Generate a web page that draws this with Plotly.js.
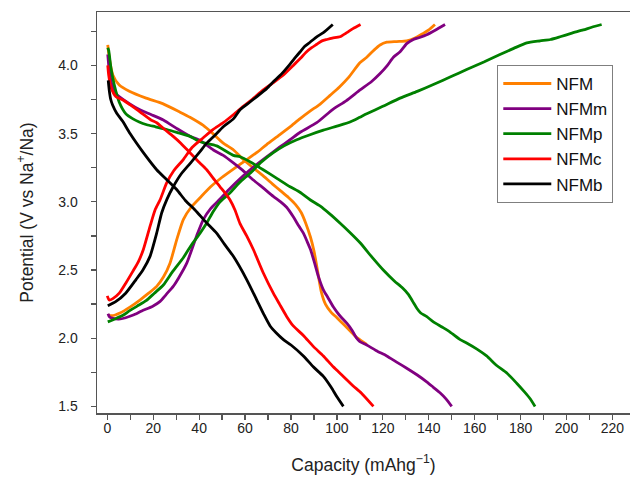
<!DOCTYPE html>
<html>
<head>
<meta charset="utf-8">
<script src="https://cdn.plot.ly/plotly-3.0.1.min.js"></script>
<style>
  html, body { margin: 0; padding: 0; background: #ffffff; overflow: hidden; }
  #chart { width: 630px; height: 483px; }
</style>
</head>
<body>
<div id="chart"></div>
<script>
// ---- Series names and colours ----
const seriesNames = ["NFM", "NFMm", "NFMp", "NFMc", "NFMb"];
const seriesColors = ["#FF8000", "#800080", "#008000", "#FF0000", "#000000"];

// ---- NFM (orange) ----
const nfmChargeCap = [0.4, 2, 5.5, 10, 14.2, 18, 21.5, 24.5, 27.3, 30.2, 33.1, 36.5, 40.4, 45, 50, 54.9, 60, 65, 69.4, 75, 79.6, 84, 88.3, 92.6, 97, 101, 105, 110, 113, 116, 118.8, 121.7, 126, 130.4, 134, 137.6, 140, 142.7];
const nfmChargeV   = [2.17, 2.165, 2.185, 2.23, 2.28, 2.33, 2.38, 2.45, 2.55, 2.72, 2.87, 2.96, 3.03, 3.11, 3.18, 3.24, 3.30, 3.36, 3.42, 3.49, 3.55, 3.61, 3.665, 3.715, 3.78, 3.84, 3.91, 4.02, 4.06, 4.11, 4.15, 4.17, 4.175, 4.18, 4.20, 4.235, 4.26, 4.30];
const nfmDisCap = [0.2, 0.9, 2.4, 5.2, 9.6, 16.9, 24.1, 31.4, 36, 41.8, 46, 50.5, 55, 59.2, 63.5, 67.9, 72, 75.5, 79, 82, 84.5, 86.5, 88.5, 90, 91, 92, 93.2, 95, 97.5, 100, 103, 106, 109, 113];
const nfmDisV   = [4.15, 4.05, 3.93, 3.856, 3.81, 3.76, 3.72, 3.66, 3.62, 3.56, 3.50, 3.43, 3.38, 3.31, 3.25, 3.19, 3.13, 3.08, 3.03, 2.98, 2.92, 2.84, 2.74, 2.64, 2.55, 2.45, 2.34, 2.25, 2.19, 2.15, 2.10, 2.05, 2.00, 1.955];

// ---- NFMm (purple) ----
const nfmmChargeCap = [0.3, 1, 2.5, 5, 8, 11.3, 15, 19.8, 23, 25.6, 28.7, 31, 34.6, 38.9, 41.8, 45, 49.1, 53, 59.2, 64, 69.4, 75, 79.6, 84, 91.2, 98.4, 104, 110.1, 115, 118.8, 122, 124.6, 127.5, 130.4, 133.3, 136, 139.1, 143, 147.1];
const nfmmChargeV   = [2.18, 2.155, 2.145, 2.14, 2.15, 2.17, 2.20, 2.235, 2.27, 2.32, 2.38, 2.44, 2.55, 2.75, 2.87, 2.95, 3.02, 3.09, 3.19, 3.26, 3.33, 3.40, 3.455, 3.51, 3.58, 3.68, 3.74, 3.82, 3.88, 3.94, 4.00, 4.06, 4.10, 4.16, 4.19, 4.205, 4.225, 4.26, 4.30];
const nfmmDisCap = [0.2, 0.8, 2, 4, 9.6, 14.2, 19, 24.4, 30, 36, 40.4, 46.2, 50.5, 54.9, 59, 63.6, 68, 72.3, 75.5, 78.1, 81, 83.5, 85.4, 87, 88.5, 90.3, 92, 94.1, 96, 98.4, 101, 104.3, 106.5, 108.6, 110, 113, 117, 121.7, 126, 130.4, 135, 139.1, 142, 144.9, 147.5, 150];
const nfmmDisV   = [4.08, 3.97, 3.86, 3.79, 3.72, 3.675, 3.64, 3.60, 3.54, 3.48, 3.45, 3.38, 3.34, 3.285, 3.23, 3.16, 3.10, 3.04, 3.00, 2.96, 2.89, 2.82, 2.77, 2.71, 2.65, 2.55, 2.45, 2.355, 2.30, 2.23, 2.17, 2.11, 2.06, 2.00, 1.975, 1.95, 1.91, 1.87, 1.825, 1.78, 1.73, 1.68, 1.64, 1.60, 1.555, 1.50];

// ---- NFMp (green) ----
const nfmpChargeCap = [0.2, 3.8, 7, 9.6, 13, 16.9, 20.5, 24.4, 28.5, 33.1, 36.5, 40.4, 43.5, 46.2, 49.1, 53.4, 57.5, 62.2, 67, 72.3, 77, 82.5, 88, 94.1, 100, 105.7, 110, 113, 120, 127.5, 135, 142, 150, 156.5, 164, 171, 177, 182.7, 188.5, 193, 197.2, 202, 207.3, 211, 215.3];
const nfmpChargeV   = [2.12, 2.145, 2.17, 2.20, 2.235, 2.275, 2.33, 2.39, 2.49, 2.59, 2.68, 2.77, 2.85, 2.93, 3.00, 3.065, 3.14, 3.21, 3.29, 3.36, 3.41, 3.455, 3.49, 3.525, 3.555, 3.585, 3.62, 3.645, 3.70, 3.76, 3.81, 3.86, 3.92, 3.97, 4.025, 4.08, 4.125, 4.165, 4.18, 4.19, 4.21, 4.235, 4.26, 4.28, 4.30];
const nfmpDisCap = [0.2, 0.6, 1.6, 3.0, 5.2, 8.1, 11, 13.9, 17.2, 21, 25.9, 31, 36, 40.4, 47.6, 54.9, 57.8, 62.5, 67.9, 74, 79.6, 83.9, 88.3, 92.6, 97, 101.3, 106, 110.1, 115, 120.2, 125, 128.5, 131.2, 133, 134.8, 136.5, 139, 142, 146, 149.3, 153.7, 156.5, 161, 165.2, 169.6, 174, 178.3, 181.5, 184, 186.3];
const nfmpDisV   = [4.13, 4.11, 3.98, 3.86, 3.73, 3.645, 3.61, 3.585, 3.565, 3.55, 3.53, 3.505, 3.48, 3.44, 3.41, 3.34, 3.33, 3.29, 3.235, 3.17, 3.11, 3.07, 3.015, 2.97, 2.91, 2.845, 2.77, 2.70, 2.60, 2.50, 2.42, 2.37, 2.32, 2.27, 2.22, 2.185, 2.16, 2.12, 2.08, 2.045, 1.99, 1.965, 1.92, 1.87, 1.80, 1.745, 1.67, 1.61, 1.56, 1.50];

// ---- NFMc (red) ----
const nfmcChargeCap = [0, 0.8, 2.4, 5.2, 8.1, 11.1, 13.5, 15.7, 18.6, 20.8, 23, 25.9, 29, 33.1, 37, 41.8, 46, 50.5, 55, 59.2, 63, 67.9, 72, 76.7, 81, 84, 86.8, 89, 91.2, 93.5, 95.6, 98, 101.3, 104.3, 107, 110.3];
const nfmcChargeV   = [2.31, 2.28, 2.29, 2.33, 2.405, 2.49, 2.56, 2.65, 2.82, 2.94, 3.015, 3.14, 3.23, 3.31, 3.40, 3.47, 3.53, 3.58, 3.64, 3.70, 3.75, 3.82, 3.87, 3.93, 4.00, 4.05, 4.10, 4.13, 4.155, 4.18, 4.19, 4.20, 4.21, 4.24, 4.27, 4.30];
const nfmcDisCap = [0.2, 0.6, 1.6, 3.8, 7, 10, 14.2, 19, 21.5, 25, 28.7, 32, 36, 40, 43.3, 46, 49.1, 51.5, 53.4, 55.6, 57.8, 60.7, 63.6, 67.9, 72.3, 75, 78.1, 81, 85.4, 89.7, 94.1, 98.4, 102.8, 107.1, 110.5, 115.9];
const nfmcDisV   = [4.00, 3.93, 3.84, 3.77, 3.745, 3.71, 3.66, 3.60, 3.58, 3.53, 3.48, 3.43, 3.36, 3.29, 3.235, 3.175, 3.11, 3.06, 3.015, 2.94, 2.84, 2.75, 2.65, 2.48, 2.33, 2.25, 2.16, 2.09, 2.02, 1.94, 1.87, 1.79, 1.72, 1.65, 1.60, 1.50];

// ---- NFMb (black) ----
const nfmbChargeCap = [0.2, 3.8, 8, 12.5, 15.5, 18.6, 21.5, 23.7, 26, 28.7, 32, 36, 40, 43.3, 47, 50.5, 55, 57.8, 62, 65, 69.4, 72.3, 76, 79.6, 82, 84, 86, 88.3, 91.2, 94.1, 98.2];
const nfmbChargeV   = [2.238, 2.27, 2.33, 2.43, 2.50, 2.60, 2.77, 2.92, 3.02, 3.11, 3.20, 3.28, 3.36, 3.43, 3.49, 3.55, 3.61, 3.675, 3.73, 3.77, 3.83, 3.88, 3.94, 4.01, 4.06, 4.10, 4.14, 4.17, 4.21, 4.24, 4.30];
const nfmbDisCap = [0.4, 0.9, 1.5, 2.3, 4.1, 6.7, 9.9, 15.7, 21.5, 26, 30.2, 34, 38.2, 43, 47.6, 51, 54.9, 60.7, 65.1, 68, 70.9, 73.5, 76.7, 80, 85.4, 89.7, 94.1, 97.5, 100, 102.8];
const nfmbDisV   = [3.89, 3.81, 3.75, 3.71, 3.65, 3.59, 3.50, 3.36, 3.235, 3.16, 3.09, 3.01, 2.94, 2.85, 2.77, 2.69, 2.60, 2.43, 2.28, 2.18, 2.09, 2.04, 1.99, 1.95, 1.87, 1.79, 1.72, 1.64, 1.57, 1.50];

// ---- Axis ticks ----
const xTickVals = [0, 20, 40, 60, 80, 100, 120, 140, 160, 180, 200, 220];
const yTickVals = [1.5, 2.0, 2.5, 3.0, 3.5, 4.0];

const chargeCaps = [nfmChargeCap, nfmmChargeCap, nfmpChargeCap, nfmcChargeCap, nfmbChargeCap];
const chargeVs   = [nfmChargeV, nfmmChargeV, nfmpChargeV, nfmcChargeV, nfmbChargeV];
const disCaps    = [nfmDisCap, nfmmDisCap, nfmpDisCap, nfmcDisCap, nfmbDisCap];
const disVs      = [nfmDisV, nfmmDisV, nfmpDisV, nfmcDisV, nfmbDisV];

const traces = seriesNames.map((name, i) => ({
  type: 'scatter',
  mode: 'lines',
  name: name,
  x: chargeCaps[i].concat([null], disCaps[i]),
  y: chargeVs[i].concat([null], disVs[i]),
  connectgaps: false,
  line: { color: seriesColors[i], width: 2.8, shape: 'spline', smoothing: 0.6 },
  hoverinfo: 'x+y+name'
}));

const axisColor = '#555555';
const textColor = '#222222';
const fontFam = '"Liberation Sans", Arial, sans-serif';

const layout = {
  width: 630,
  height: 483,
  margin: { l: 97, r: 0, t: 12, b: 70, pad: 0 },
  paper_bgcolor: '#ffffff',
  plot_bgcolor: '#ffffff',
  font: { family: fontFam, color: textColor, size: 14 },
  showlegend: true,
  legend: {
    x: 0.751, y: 0.868, xanchor: 'left', yanchor: 'top',
    bgcolor: '#ffffff', bordercolor: '#7f7f7f', borderwidth: 1,
    font: { family: fontFam, size: 17, color: '#111111' },
    itemwidth: 48,
    tracegroupgap: 0
  },
  xaxis: {
    range: [-4.49, 227.65],
    tickvals: xTickVals,
    ticktext: xTickVals.map(String),
    ticks: 'outside', ticklen: 5, tickwidth: 1.3, tickcolor: axisColor,
    minor: { dtick: 10, tick0: 0, ticks: 'outside', ticklen: 5, tickwidth: 1.3, tickcolor: axisColor, showgrid: false },
    showline: true, linecolor: axisColor, linewidth: 1.5, mirror: true,
    showgrid: false, zeroline: false,
    ticklabelstandoff: -3,
    tickfont: { family: fontFam, size: 14, color: textColor },
    title: { text: 'Capacity (mAhg<sup>\u22121</sup>)', font: { family: fontFam, size: 17.5, color: textColor }, standoff: 23 },
    automargin: false
  },
  yaxis: {
    range: [1.4516, 4.3916],
    tickvals: yTickVals,
    ticktext: yTickVals.map(v => v.toFixed(1)),
    ticks: 'outside', ticklen: 5, tickwidth: 1.3, tickcolor: axisColor,
    minor: { dtick: 0.25, tick0: 0, ticks: 'outside', ticklen: 5, tickwidth: 1.3, tickcolor: axisColor, showgrid: false },
    showline: true, linecolor: axisColor, linewidth: 1.5, mirror: false,
    showgrid: false, zeroline: false,
    ticklabelstandoff: 10,
    tickfont: { family: fontFam, size: 14, color: textColor },
    title: { text: 'Potential (V vs Na<sup>+</sup>/Na)', font: { family: fontFam, size: 17.5, color: textColor }, standoff: 20 },
    automargin: false
  }
};

Plotly.newPlot('chart', traces, layout, { displayModeBar: false, staticPlot: true });
</script>
</body>
</html>
